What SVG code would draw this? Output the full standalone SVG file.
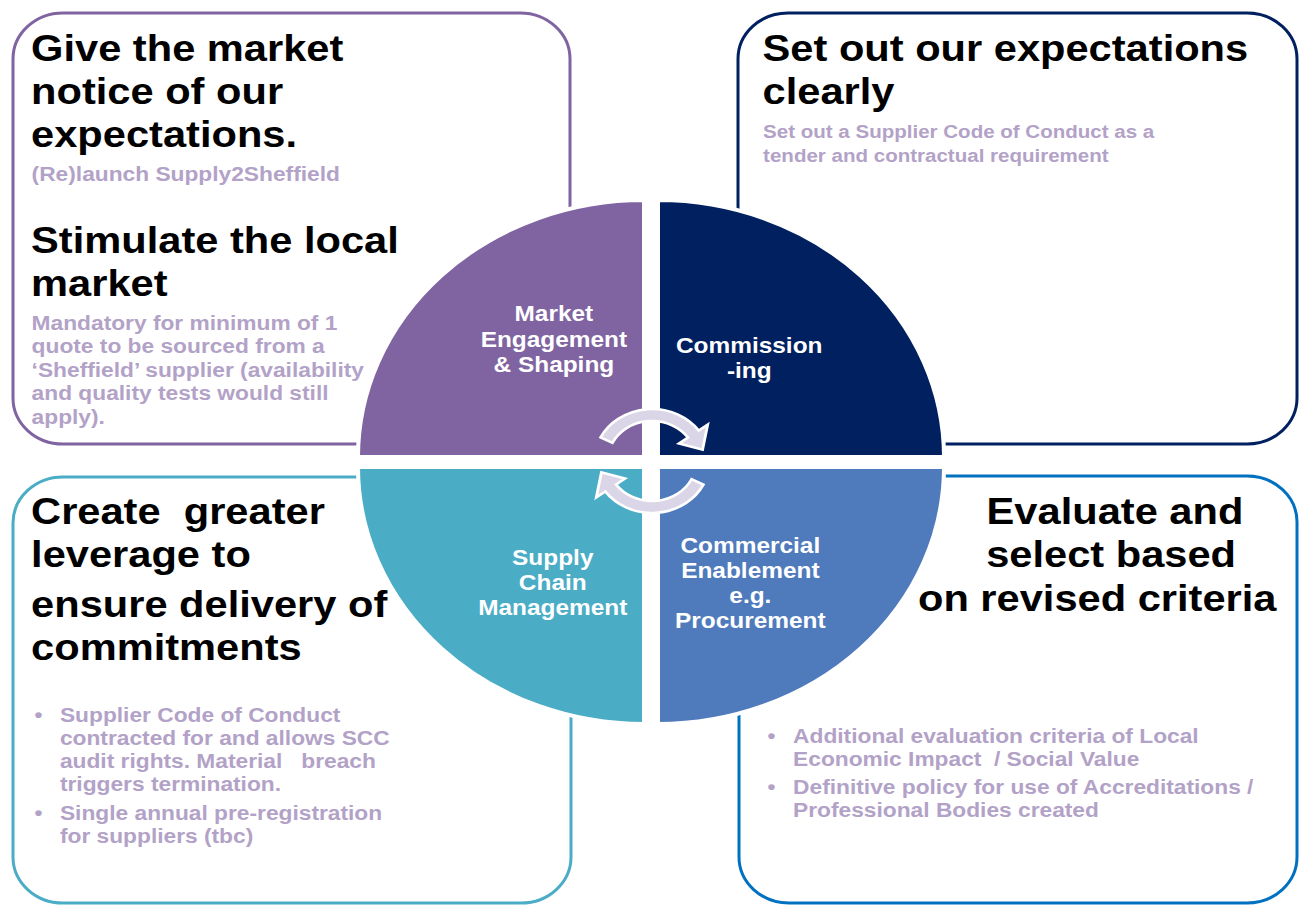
<svg xmlns="http://www.w3.org/2000/svg" width="1303" height="905" viewBox="0 0 1303 905">
<defs>
<style>
text{font-family:"Liberation Sans",Arial,sans-serif;font-weight:bold}
.h{font-size:37.5px;fill:#000}
.s{font-size:20.5px;fill:#B3A2C7}
.s2{font-size:18.5px;fill:#B3A2C7}
.q{font-size:22px;fill:#fff;text-anchor:middle}
.box{fill:#fff;stroke-width:3}
.quad{stroke:#fff;stroke-width:4}
.arrow{fill:#DAD6E7;stroke:#fff;stroke-width:2.5;stroke-linejoin:miter}
</style>
<path id="arr" d="M -46.3 -23.6 A 52 52 0 0 1 42.1 -30.6 L 50.2 -36.4 L 45.6 -11.4 L 24.3 -17.6 L 32.4 -23.5 A 40 40 0 0 0 -35.6 -18.2 Z"/>
</defs>
<rect width="1303" height="905" fill="#fff"/>

<g id="box-market-notice">
<rect class="box" x="13" y="13" width="557" height="431" rx="50" ry="46" stroke="#8064A2"/>
<g transform="scale(1.11 1)">
<text class="h" x="28" y="61">Give the market</text>
<text class="h" x="28" y="104">notice of our</text>
<text class="h" x="28" y="147">expectations.</text>
<text class="s" x="28.5" y="181">(Re)launch Supply2Sheffield</text>
<text class="h" x="28" y="253">Stimulate the local</text>
<text class="h" x="28" y="296">market</text>
<text class="s" x="28.5" y="330">Mandatory for minimum of 1</text>
<text class="s" x="28.5" y="353.5">quote to be sourced from a</text>
<text class="s" x="28.5" y="377">‘Sheffield’ supplier (availability</text>
<text class="s" x="28.5" y="400.5">and quality tests would still</text>
<text class="s" x="28.5" y="424">apply).</text>
</g>
</g>

<g id="box-expectations">
<rect class="box" x="738" y="13" width="559" height="431" rx="50" ry="46" stroke="#002060"/>
<g transform="scale(1.11 1)">
<text class="h" x="687" y="61">Set out our expectations</text>
<text class="h" x="687" y="104">clearly</text>
<text class="s2" x="687.5" y="138">Set out a Supplier Code of Conduct as a</text>
<text class="s2" x="687.5" y="162">tender and contractual requirement</text>
</g>
</g>

<g id="box-leverage">
<rect class="box" x="13" y="477" width="558" height="426" rx="50" ry="46" stroke="#4BACC6"/>
<g transform="scale(1.11 1)">
<text class="h" x="28" y="524" xml:space="preserve">Create  greater</text>
<text class="h" x="28" y="567">leverage to</text>
<text class="h" x="28" y="617">ensure delivery of</text>
<text class="h" x="28" y="660">commitments</text>
<text class="s" x="31" y="722">•</text>
<text class="s" x="54" y="722">Supplier Code of Conduct</text>
<text class="s" x="54" y="745">contracted for and allows SCC</text>
<text class="s" x="54" y="768" xml:space="preserve">audit rights. Material   breach</text>
<text class="s" x="54" y="791">triggers termination.</text>
<text class="s" x="31" y="820">•</text>
<text class="s" x="54" y="820">Single annual pre-registration</text>
<text class="s" x="54" y="843">for suppliers (tbc)</text>
</g>
</g>

<g id="box-evaluate">
<rect class="box" x="739" y="476" width="558" height="427" rx="50" ry="46" stroke="#0070C0"/>
<g transform="scale(1.11 1)">
<text class="h" x="1004.5" y="524" text-anchor="middle">Evaluate and</text>
<text class="h" x="1001" y="567" text-anchor="middle">select based</text>
<text class="h" x="988.5" y="611" text-anchor="middle">on revised criteria</text>
<text class="s" x="691.5" y="743">•</text>
<text class="s" x="714.5" y="743">Additional evaluation criteria of Local</text>
<text class="s" x="714.5" y="766" xml:space="preserve">Economic Impact  / Social Value</text>
<text class="s" x="691.5" y="794">•</text>
<text class="s" x="714.5" y="794">Definitive policy for use of Accreditations /</text>
<text class="s" x="714.5" y="817">Professional Bodies created</text>
</g>
</g>

<g id="q-market-engagement">
<path class="quad" fill="#8064A2" d="M 644 457 L 358 457 A 286 257 0 0 1 644 200 Z"/>
<g transform="scale(1.11 1)">
<text class="q" x="499" y="321">Market</text>
<text class="q" x="499" y="347">Engagement</text>
<text class="q" x="499" y="372">&amp; Shaping</text>
</g>
</g>

<g id="q-commissioning">
<path class="quad" fill="#002060" d="M 658 457 L 658 200 A 286 257 0 0 1 944 457 Z"/>
<g transform="scale(1.11 1)">
<text class="q" x="675" y="353">Commission</text>
<text class="q" x="675" y="378">-ing</text>
</g>
</g>

<g id="q-supply-chain">
<path class="quad" fill="#4BACC6" d="M 644 467 L 358 467 A 286 257 0 0 0 644 724 Z"/>
<g transform="scale(1.11 1)">
<text class="q" x="498" y="565">Supply</text>
<text class="q" x="498" y="590">Chain</text>
<text class="q" x="498" y="615">Management</text>
</g>
</g>

<g id="q-commercial">
<path class="quad" fill="#4F7BBD" d="M 658 467 L 944 467 A 286 257 0 0 1 658 724 Z"/>
<g transform="scale(1.11 1)">
<text class="q" x="676" y="553">Commercial</text>
<text class="q" x="676" y="578">Enablement</text>
<text class="q" x="676" y="603">e.g.</text>
<text class="q" x="676" y="628">Procurement</text>
</g>
</g>

<g id="connectors">
<g transform="translate(652 461) scale(1.11 1)">
<use href="#arr" class="arrow"/>
<use href="#arr" class="arrow" transform="rotate(180)"/>
</g>
</g>
</svg>
